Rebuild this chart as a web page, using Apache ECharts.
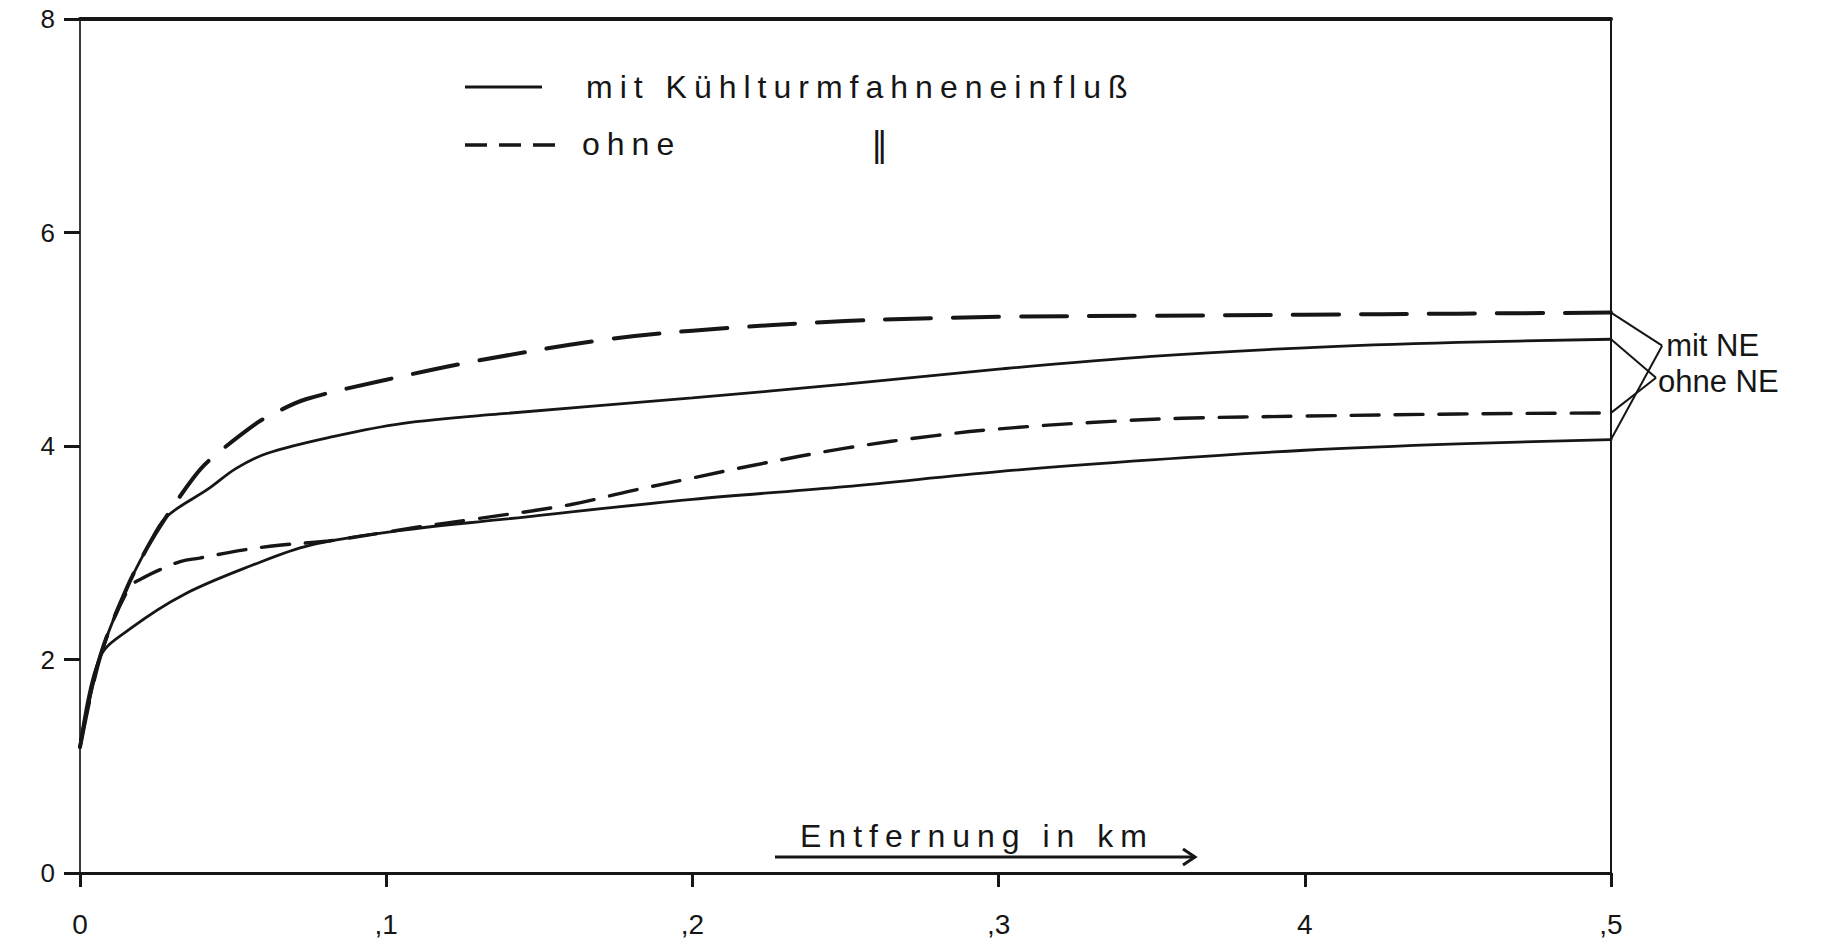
<!DOCTYPE html>
<html>
<head>
<meta charset="utf-8">
<title>Entfernung in km</title>
<script src="https://cdn.jsdelivr.net/npm/echarts@6/dist/echarts.min.js"></script>
<style>
  html, body { margin: 0; padding: 0; background: #ffffff; }
  #chart { width: 1827px; height: 944px; }
  /* stencil-style lettering of the key and the axis caption: wide character spacing */
  #chart text[style*="32px"] { letter-spacing: 7px; }
</style>
</head>
<body>
<div id="chart"></div>
<script>
// x axis: distance in km, labelled with a leading decimal comma
const xTicks = [0, 0.1, 0.2, 0.3, 0.4, 0.5];
const xTickLabels = ['0', ',1', ',2', ',3', '4', ',5'];
const yTicks = [0, 2, 4, 6, 8];

// upper pair of curves
const upperSolid = [
  [0, 1.18], [0.0065, 2.02], [0.015, 2.65], [0.022, 3.05], [0.028, 3.33],
  [0.042, 3.60], [0.051, 3.79], [0.061, 3.93], [0.083, 4.09], [0.105, 4.21],
  [0.137, 4.30], [0.2, 4.45], [0.25, 4.58], [0.3, 4.72], [0.35, 4.84],
  [0.4, 4.92], [0.45, 4.97], [0.5, 5.00]
];
const upperDashed = [
  [0, 1.18], [0.0065, 2.02], [0.015, 2.65], [0.022, 3.05], [0.028, 3.33],
  [0.037, 3.70], [0.042, 3.86], [0.057, 4.20], [0.063, 4.30], [0.074, 4.44],
  [0.1, 4.62], [0.13, 4.80], [0.17, 4.99], [0.2, 5.08], [0.25, 5.17],
  [0.3, 5.21], [0.35, 5.22], [0.4, 5.23], [0.45, 5.24], [0.5, 5.25]
];

// lower pair of curves
const lowerSolid = [
  [0, 1.18], [0.0065, 2.02], [0.017, 2.30], [0.034, 2.61], [0.056, 2.88],
  [0.075, 3.07], [0.105, 3.21], [0.137, 3.31], [0.2, 3.50], [0.25, 3.62],
  [0.3, 3.76], [0.35, 3.87], [0.4, 3.96], [0.45, 4.02], [0.5, 4.06]
];
const lowerDashed = [
  [0, 1.18], [0.0065, 2.02], [0.016, 2.67], [0.021, 2.77], [0.026, 2.84],
  [0.033, 2.92], [0.039, 2.95], [0.052, 3.02], [0.065, 3.07], [0.081, 3.11],
  [0.095, 3.17], [0.11, 3.24], [0.13, 3.32], [0.16, 3.45], [0.18, 3.58],
  [0.2, 3.70], [0.22, 3.82], [0.25, 3.98], [0.28, 4.10], [0.3, 4.16],
  [0.33, 4.22], [0.36, 4.26], [0.4, 4.28], [0.45, 4.30], [0.5, 4.31]
];

// tag points right of the frame where the end leaders meet
const mitNEPoint = [0.5167, 4.94];
const ohneNEPoint = [0.5147, 4.64];

const INK = '#161616';
const FONT = 'Liberation Sans, Arial, sans-serif';

const last = arr => arr[arr.length - 1];

function curve(name, data, width, dash) {
  return {
    name: name,
    type: 'line',
    data: data,
    smooth: 0.35,
    showSymbol: false,
    silent: true,
    z: 3,
    lineStyle: { color: INK, width: width, type: dash || 'solid', cap: 'round' }
  };
}

const chart = echarts.init(document.getElementById('chart'), null, { renderer: 'svg' });

chart.setOption({
  backgroundColor: '#ffffff',
  animation: false,
  textStyle: { fontFamily: FONT },
  grid: { left: 80, right: 216, top: 19, bottom: 71, containLabel: false },
  xAxis: [
    {
      type: 'value', position: 'bottom',
      min: xTicks[0], max: xTicks[xTicks.length - 1], interval: 0.1,
      axisLine: { show: true, onZero: false, lineStyle: { color: INK, width: 3 } },
      axisTick: { show: true, inside: false, length: 14, lineStyle: { color: INK, width: 3 } },
      splitLine: { show: false },
      axisLabel: {
        margin: 37, color: INK, fontFamily: 'Liberation Sans', fontSize: 28,
        formatter: v => {
          const i = xTicks.findIndex(t => Math.abs(t - v) < 1e-9);
          return i >= 0 ? xTickLabels[i] : '';
        }
      }
    },
    {
      type: 'value', position: 'top',
      min: xTicks[0], max: xTicks[xTicks.length - 1],
      axisLine: { show: true, onZero: false, lineStyle: { color: INK, width: 4 } },
      axisTick: { show: false }, axisLabel: { show: false }, splitLine: { show: false }
    }
  ],
  yAxis: [
    {
      type: 'value', position: 'left',
      min: yTicks[0], max: yTicks[yTicks.length - 1], interval: 2,
      axisLine: { show: true, onZero: false, lineStyle: { color: '#3a3a3a', width: 2 } },
      axisTick: { show: true, inside: false, length: 16, lineStyle: { color: INK, width: 3 } },
      splitLine: { show: false },
      axisLabel: { margin: 25, color: INK, fontFamily: 'Liberation Sans', fontSize: 26 }
    },
    {
      type: 'value', position: 'right',
      min: yTicks[0], max: yTicks[yTicks.length - 1],
      axisLine: { show: true, onZero: false, lineStyle: { color: INK, width: 2 } },
      axisTick: { show: false }, axisLabel: { show: false }, splitLine: { show: false }
    }
  ],
  series: [
    curve('mit Kühlturmfahneneinfluß', upperSolid, 2.8),
    curve('ohne', upperDashed, 4, [46, 22]),
    curve('mit Kühlturmfahneneinfluß', lowerSolid, 2.8),
    curve('ohne', lowerDashed, 3.4, [28, 16])
  ]
});

// leaders from each curve end to its tag, placed through the grid's own coordinate mapping
const toPx = p => chart.convertToPixel({ gridIndex: 0 }, p);
function leader(from, to) {
  const a = toPx(from), b = toPx(to);
  return { type: 'line', z: 10, shape: { x1: a[0], y1: a[1], x2: b[0], y2: b[1] }, style: { stroke: INK, lineWidth: 2 } };
}
const tagMit = toPx(mitNEPoint);
const tagOhne = toPx(ohneNEPoint);

chart.setOption({
  graphic: [
    // key
    { type: 'line', shape: { x1: 465, y1: 87, x2: 542, y2: 87 }, style: { stroke: INK, lineWidth: 3 } },
    { type: 'line', shape: { x1: 465, y1: 145, x2: 556, y2: 145 }, style: { stroke: INK, lineWidth: 3.5, lineDash: [22, 12] } },
    { type: 'text', x: 586, y: 87, style: { text: 'mit Kühlturmfahneneinfluß', font: '32px ' + FONT, fill: INK, align: 'left', verticalAlign: 'middle' } },
    { type: 'text', x: 582, y: 144, style: { text: 'ohne', font: '32px ' + FONT, fill: INK, align: 'left', verticalAlign: 'middle' } },
    { type: 'text', x: 871, y: 144, style: { text: '‖', font: 'italic 34px DejaVu Sans, sans-serif', fill: INK, align: 'left', verticalAlign: 'middle' } },
    // axis caption with arrow
    { type: 'text', x: 800, y: 836, style: { text: 'Entfernung in km', font: '32px ' + FONT, fill: INK, align: 'left', verticalAlign: 'middle' } },
    { type: 'polyline', shape: { points: [[775, 857], [1195, 857]] }, style: { stroke: INK, lineWidth: 3, fill: null } },
    { type: 'polyline', shape: { points: [[1183, 849], [1195, 857], [1183, 865]] }, style: { stroke: INK, lineWidth: 3, fill: null } },
    // end leaders
    leader(last(upperDashed), mitNEPoint),
    leader(last(upperSolid), ohneNEPoint),
    leader(last(lowerDashed), ohneNEPoint),
    leader(last(lowerSolid), mitNEPoint),
    // end tags
    { type: 'text', x: tagMit[0] + 4, y: tagMit[1], style: { text: 'mit NE', font: '31px ' + FONT, fill: INK, align: 'left', verticalAlign: 'middle' } },
    { type: 'text', x: tagOhne[0] + 2, y: tagOhne[1] + 4, style: { text: 'ohne NE', font: '31px ' + FONT, fill: INK, align: 'left', verticalAlign: 'middle' } }
  ]
});
</script>
</body>
</html>
